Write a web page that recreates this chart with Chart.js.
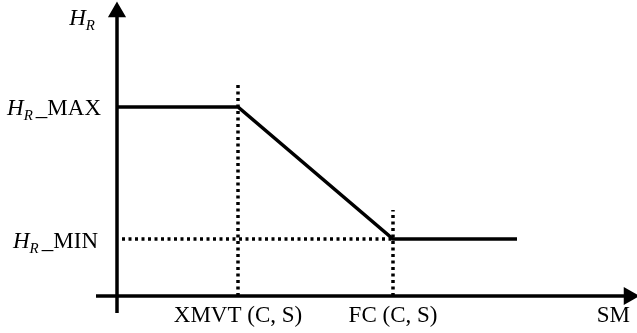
<!DOCTYPE html>
<html>
<head>
<meta charset="utf-8">
<script src="https://cdn.jsdelivr.net/npm/chart.js@4/dist/chart.umd.min.js"></script>
<style>
  html, body { margin: 0; padding: 0; background: #fff; }
  #wrap { width: 637px; height: 333px; }
</style>
</head>
<body>
<div id="wrap"><canvas id="grafico" width="637" height="333"></canvas></div>
<script>
// pontos-chave do esquema (unidades arbitrárias, origem no cruzamento dos eixos)
const xLabels = ['XMVT (C, S)', 'FC (C, S)'];
const xMarks = [121, 276];        // XMVT e FC
const xEnd = 400;                 // fim da curva
const hrMax = 189;                // H_R MAX
const hrMin = 57;                 // H_R MIN
const guideTops = [213, 86];      // topo das linhas pontilhadas verticais
const axisX = [-21, 512];
const axisY = [-17, 284];

const curva = [
  { x: 0, y: hrMax },
  { x: xMarks[0], y: hrMax },
  { x: xMarks[1], y: hrMin },
  { x: xEnd, y: hrMin }
];

const pontilhado = { borderColor: '#000', borderWidth: 3.5, borderDash: [3, 3.5], pointRadius: 0, showLine: true };

const rotulos = {
  id: 'rotulos',
  afterDraw(chart) {
    const { ctx, scales: { x, y } } = chart;
    const x0 = x.getPixelForValue(0);
    ctx.save();
    ctx.fillStyle = '#000';
    ctx.textBaseline = 'alphabetic';

    function hr(xRight, base, suffix) {
      ctx.font = 'italic 23px "Liberation Serif"';
      const wH = ctx.measureText('H').width;
      ctx.font = 'italic 15px "Liberation Serif"';
      const wR = ctx.measureText('R').width + 3;
      ctx.font = '23px "Liberation Serif"';
      const wS = suffix ? ctx.measureText(suffix).width : 0;
      let px = xRight - (wH + wR + wS);
      ctx.textAlign = 'left';
      ctx.font = 'italic 23px "Liberation Serif"';
      ctx.fillText('H', px, base);
      px += wH;
      ctx.font = 'italic 15px "Liberation Serif"';
      ctx.fillText('R', px, base + 5);
      px += wR;
      if (suffix) {
        ctx.font = '23px "Liberation Serif"';
        ctx.fillText(suffix, px, base);
      }
    }

    hr(x0 - 19, 25, '');
    hr(x0 - 16, y.getPixelForValue(hrMax) + 8, '_MAX');
    hr(x0 - 19, y.getPixelForValue(hrMin) + 9, '_MIN');

    ctx.font = '23px "Liberation Serif"';
    ctx.textAlign = 'center';
    const base = y.getPixelForValue(0) + 26;
    xLabels.forEach((t, i) => ctx.fillText(t, x.getPixelForValue(xMarks[i]), base));
    ctx.textAlign = 'right';
    ctx.fillText('SM', chart.width - 7, base);
    ctx.restore();
  }
};

new Chart(document.getElementById('grafico').getContext('2d'), {
  type: 'scatter',
  data: {
    datasets: [
      { data: [{ x: axisX[0], y: 0 }, { x: axisX[1], y: 0 }], borderColor: '#000', backgroundColor: '#000', borderWidth: 3.5,
        showLine: true, pointStyle: 'triangle', pointRadius: [0, 7], rotation: 90, borderCapStyle: 'butt' },
      { data: [{ x: 0, y: axisY[0] }, { x: 0, y: axisY[1] }], borderColor: '#000', backgroundColor: '#000', borderWidth: 3.5,
        showLine: true, pointStyle: 'triangle', pointRadius: [0, 7], rotation: 0, borderCapStyle: 'butt' },
      { data: curva, borderColor: '#000', borderWidth: 3.5, pointRadius: 0, showLine: true, borderJoinStyle: 'miter' },
      { data: [{ x: xMarks[0], y: 0 }, { x: xMarks[0], y: guideTops[0] }], ...pontilhado },
      { data: [{ x: xMarks[1], y: 0 }, { x: xMarks[1], y: guideTops[1] }], ...pontilhado },
      { data: [{ x: 5, y: hrMin }, { x: xMarks[1], y: hrMin }], ...pontilhado }
    ]
  },
  options: {
    responsive: false,
    animation: false,
    layout: { padding: 0, autoPadding: false },
    plugins: { legend: { display: false }, tooltip: { enabled: false } },
    scales: {
      x: { type: 'linear', min: -117, max: 520, display: false },
      y: { type: 'linear', min: -37, max: 296, display: false }
    }
  },
  plugins: [rotulos]
});
</script>
</body>
</html>
